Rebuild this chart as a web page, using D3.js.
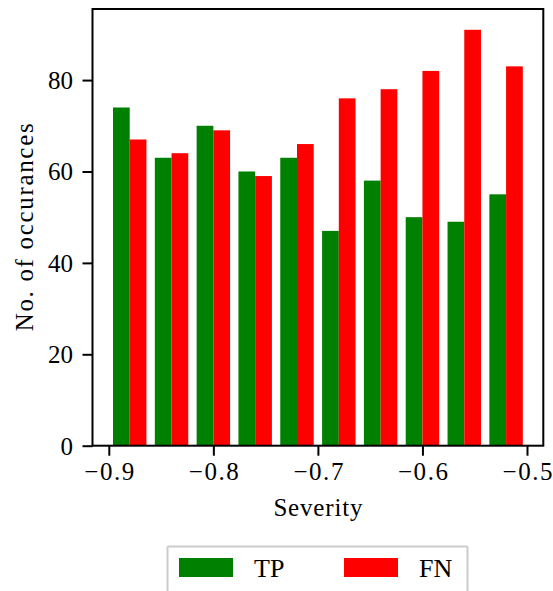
<!DOCTYPE html>
<html>
<head>
<meta charset="utf-8">
<script src="https://cdn.jsdelivr.net/npm/d3@7"></script>
<style>
  html, body { margin: 0; padding: 0; background: #fff; }
  svg { display: block; }
  text { font-family: "Liberation Serif", "DejaVu Serif", serif; fill: #000; }
</style>
</head>
<body>
<svg id="chart" width="553" height="591"></svg>
<script>
// Histogram bins of severity (left edges), width 0.04
const binEdges = [-0.90, -0.86, -0.82, -0.78, -0.74, -0.70, -0.66, -0.62, -0.58, -0.54];
const binWidth = 0.04;
const tpCounts = [74, 63, 70, 60, 63, 47, 58, 50, 49, 55];
const fnCounts = [67, 64, 69, 59, 66, 76, 78, 82, 91, 83];
const seriesNames = ["TP", "FN"];
const seriesColors = ["green", "red"];
const xTicks = [-0.9, -0.8, -0.7, -0.6, -0.5];
const yTicks = [0, 20, 40, 60, 80];

const svg = d3.select("#chart");
const plotLeft = 92.5, plotRight = 543.3, plotTop = 9, plotBottom = 445.7;

const x = d3.scaleLinear().domain([-0.9156, -0.4844]).range([plotLeft, plotRight]);
const y = d3.scaleLinear().domain([0, 95.55]).range([plotBottom, plotTop]);

// Side-by-side histogram bars: each takes 40% of its bin, centred pair
const series = [tpCounts, fnCounts];
series.forEach((vals, s) => {
  svg.append("g").selectAll("rect")
    .data(vals)
    .join("rect")
    .attr("x", (d, i) => x(binEdges[i] + binWidth * (0.1 + 0.4 * s)))
    .attr("width", (d, i) => x(binEdges[i] + binWidth * (0.5 + 0.4 * s)) - x(binEdges[i] + binWidth * (0.1 + 0.4 * s)))
    .attr("y", d => y(d))
    .attr("height", d => y(0) - y(d))
    .attr("fill", seriesColors[s]);
});

// Frame
svg.append("rect")
  .attr("x", plotLeft).attr("y", plotTop)
  .attr("width", plotRight - plotLeft).attr("height", plotBottom - plotTop)
  .attr("fill", "none").attr("stroke", "#000").attr("stroke-width", 2);

const fmt = d3.format(".1f");
const xAxis = svg.append("g")
  .attr("transform", `translate(0,${plotBottom})`)
  .call(d3.axisBottom(x).tickValues(xTicks).tickFormat(fmt).tickSize(10).tickPadding(7));
const yAxis = svg.append("g")
  .attr("transform", `translate(${plotLeft},0)`)
  .call(d3.axisLeft(y).tickValues(yTicks).tickSize(10).tickPadding(9.5));

[xAxis, yAxis].forEach(g => {
  g.select(".domain").remove();
  g.selectAll(".tick line").attr("stroke", "#000").attr("stroke-width", 2);
  g.selectAll(".tick text")
    .attr("font-family", "'Liberation Serif', 'DejaVu Serif', serif")
    .attr("font-size", 25).attr("fill", "#000");
});
xAxis.selectAll(".tick text")
  .attr("textLength", 50).attr("lengthAdjust", "spacing");
yAxis.selectAll(".tick text").attr("dy", "0.34em");

// Axis titles
svg.append("text")
  .attr("x", (plotLeft + plotRight) / 2).attr("y", 516)
  .attr("text-anchor", "middle").attr("font-size", 25)
  .attr("textLength", 89).attr("lengthAdjust", "spacing")
  .text("Severity");
svg.append("text")
  .attr("transform", `translate(33,${(plotTop + plotBottom) / 2}) rotate(-90)`)
  .attr("text-anchor", "middle").attr("font-size", 25)
  .attr("textLength", 208).attr("lengthAdjust", "spacing")
  .text("No. of occurances");

// Legend
const lg = svg.append("g");
lg.append("rect")
  .attr("x", 167.5).attr("y", 546.5)
  .attr("width", 300).attr("height", 60)
  .attr("fill", "#fff").attr("stroke", "#ccc").attr("stroke-width", 2).attr("rx", 1);
const legendX = [179, 344];
seriesNames.forEach((name, i) => {
  lg.append("rect")
    .attr("x", legendX[i]).attr("y", 558)
    .attr("width", 54).attr("height", 19)
    .attr("fill", seriesColors[i]);
  lg.append("text")
    .attr("x", legendX[i] + 75).attr("y", 576.5)
    .attr("font-size", 26)
    .text(name);
});
</script>
</body>
</html>
